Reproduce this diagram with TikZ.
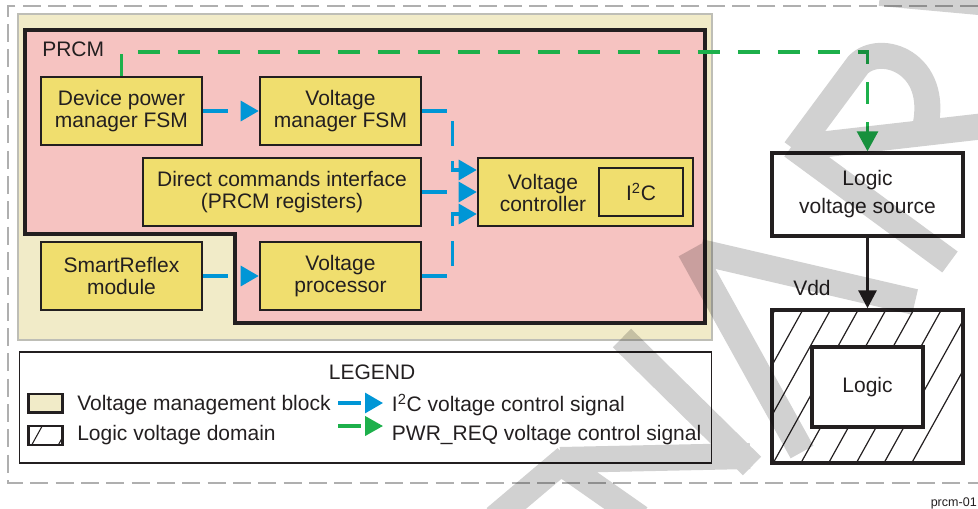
\documentclass[tikz,border=0pt]{standalone}
\usepackage{fontspec}
\setmainfont{Liberation Sans}
\usetikzlibrary{arrows.meta,calc}
\definecolor{pinkfill}{RGB}{246,195,193}
\definecolor{beigefill}{RGB}{241,235,200}
\definecolor{yelfill}{RGB}{240,222,110}
\definecolor{tiblue}{RGB}{0,150,214}
\definecolor{tigreen}{RGB}{29,176,75}
\definecolor{ink}{RGB}{35,31,32}
\definecolor{bordergray}{RGB}{175,175,175}
\definecolor{beigeedge}{RGB}{190,190,182}
\begin{document}
\begin{tikzpicture}[x=0.75pt,y=-0.75pt,
  every node/.style={text=ink, font=\fontsize{15.75}{16.5}\selectfont},
  sz/.style 2 args={minimum width=#1*0.75pt, minimum height=#2*0.75pt, inner sep=0pt},
  lbl/.style={inner sep=0pt},
  ybox/.style={draw=ink, fill=yelfill, line width=1.9pt, align=center},
  wbox/.style={draw=ink, fill=white, line width=2.6pt, align=center},
  bluetip/.style={-{Triangle[length=13.5pt,width=15pt]}},
  greentip/.style={-{Triangle[length=15pt,width=15.75pt]}},
  i2c/.style={draw=tiblue, line width=2.3pt, dash pattern=on 18.75pt off 11.25pt, bluetip},
  pwr/.style={draw=tigreen, line width=2.3pt, dash pattern=on 16.5pt off 13.5pt, greentip},
  legline/.style={dash pattern=on 17.25pt off 3pt},
  wmark/.style={draw=black, opacity=0.18, line width=19.5pt, line cap=butt, line join=miter}
]
\useasboundingbox (0,0) rectangle (978,508);

% outer dashed frame
\draw[bordergray, line width=1.5pt, dash pattern=on 13.5pt off 5.5pt] (978,6) -- (8,6) -- (8,483) -- (978,483);

% voltage management block
\draw[draw=beigeedge, fill=beigefill, line width=1.5pt] (18,14) rectangle (712,340);

% PRCM
\draw[draw=ink, fill=pinkfill, line width=2.3pt] (25,30) -- (705,30) -- (705,323) -- (235,323) -- (235,234) -- (25,234) -- cycle;
\node[lbl, anchor=base west] (prcm) at (42,56) {PRCM};

% blocks
\node[ybox, sz={161}{68}] (dpm) at (121.5,111) {Device power\\manager FSM};
\node[ybox, sz={161}{68}] (vm) at (340.5,111) {Voltage\\manager FSM};
\node[ybox, sz={278}{68}] (dci) at (282,192) {Direct commands interface\\(PRCM registers)};
\node[ybox, sz={161}{68}] (sr) at (121.5,276) {SmartReflex\\module};
\node[ybox, sz={161}{68}] (vp) at (340.5,276) {Voltage\\processor};
\node[ybox, sz={215}{68}] (vc) at (585.5,192) {};
\node[lbl, align=center] (vctext) at (543,192.5) {Voltage\\controller};
\node[draw=ink, line width=1.9pt, sz={84}{48}] (i2cbox) at (641,192) {I\textsuperscript{2}C};

% right side
\node[wbox, sz={191}{83}, font=\fontsize{15.75}{21}\selectfont] (lvs) at (867.5,194.5) {Logic\\voltage source};
\begin{scope}
  \clip (772,310) rectangle (963,463);
  \foreach \k in {-7,...,7}
    \draw[ink, line width=0.9pt] ({717.8+27.7*\k},463) -- ({802.7+27.7*\k},310);
\end{scope}
\node[draw=ink, line width=2.6pt, sz={191}{153}] (dom) at (867.5,386.5) {};
\node[wbox, sz={111}{80}] (logic) at (867.5,387) {Logic};
\draw[ink, line width=2.3pt, -{Triangle[length=13.5pt,width=13.5pt]}] (lvs.south) -- (dom.north);
\node[lbl, anchor=base west] (vdd) at (793,295) {Vdd};

% connectors
\draw[i2c] (dpm.east) -- (vm.west);
\draw[i2c] (sr.east) -- (vp.west);
\draw[i2c] (dci.east) -- (vc.west);
\draw[i2c] (vm.east) -- ++(30,0) |- ($(vc.west)+(0,-22)$);
\draw[i2c] (vp.east) -- ++(30,0) |- ($(vc.west)+(0,22)$);
\draw[pwr] (dpm.north) |- (lvs.north |- 0,52) -- (lvs.north);

% legend
\draw[ink, line width=1pt] (19.3,352) rectangle (711.7,463);
\node[lbl, anchor=base] (legtitle) at (372,379) {LEGEND};
\draw[ink, fill=beigefill, line width=1.9pt] (28.7,394) rectangle (62.7,412.7);
\draw[ink, fill=white, line width=1.9pt] (28.7,426) rectangle (62.7,445);
\begin{scope}
  \clip (28.7,426) rectangle (62.7,445);
  \draw[ink, line width=0.8pt] (31.7,445) -- ++(10.5,-19) (58.3,445) -- ++(10.5,-19);
\end{scope}
\node[lbl, anchor=base west] (leg1) at (77,410) {Voltage management block};
\node[lbl, anchor=base west] (leg2) at (77,440.7) {Logic voltage domain};
\coordinate (lb1) at (338,403);
\coordinate (lb2) at (383,403);
\coordinate (lg1) at (338,426);
\coordinate (lg2) at (383,426);
\draw[i2c, legline] (lb1) -- (lb2);
\draw[pwr, legline, -{Triangle[length=13.5pt,width=14.5pt]}] (lg1) -- (lg2);
\node[lbl, anchor=base west] (leg3) at (391.7,411) {I\textsuperscript{2}C voltage control signal};
\node[lbl, anchor=base west] (leg4) at (391.7,440.7) {PWR\_REQ voltage control signal};

\node[lbl, anchor=base east, font=\fontsize{9.4}{11}\selectfont] (figid) at (977,506) {prcm-01};

% watermark
\draw[wmark]
  (880,-7) -- (990,3)
  (495,518) -- (566,458)
  (560,460) -- (750,456)
  (560,462) -- (640,518)
  (622,338) -- (752,466)
  (690,250) -- (802,452)
  (700,252) -- (915,302)
  (792,146) -- (950,262)
  (792,148) -- (985,126)
  (795,150) -- (858,65) .. controls (880,42) and (940,62) .. (925,128);
\end{tikzpicture}
\end{document}
